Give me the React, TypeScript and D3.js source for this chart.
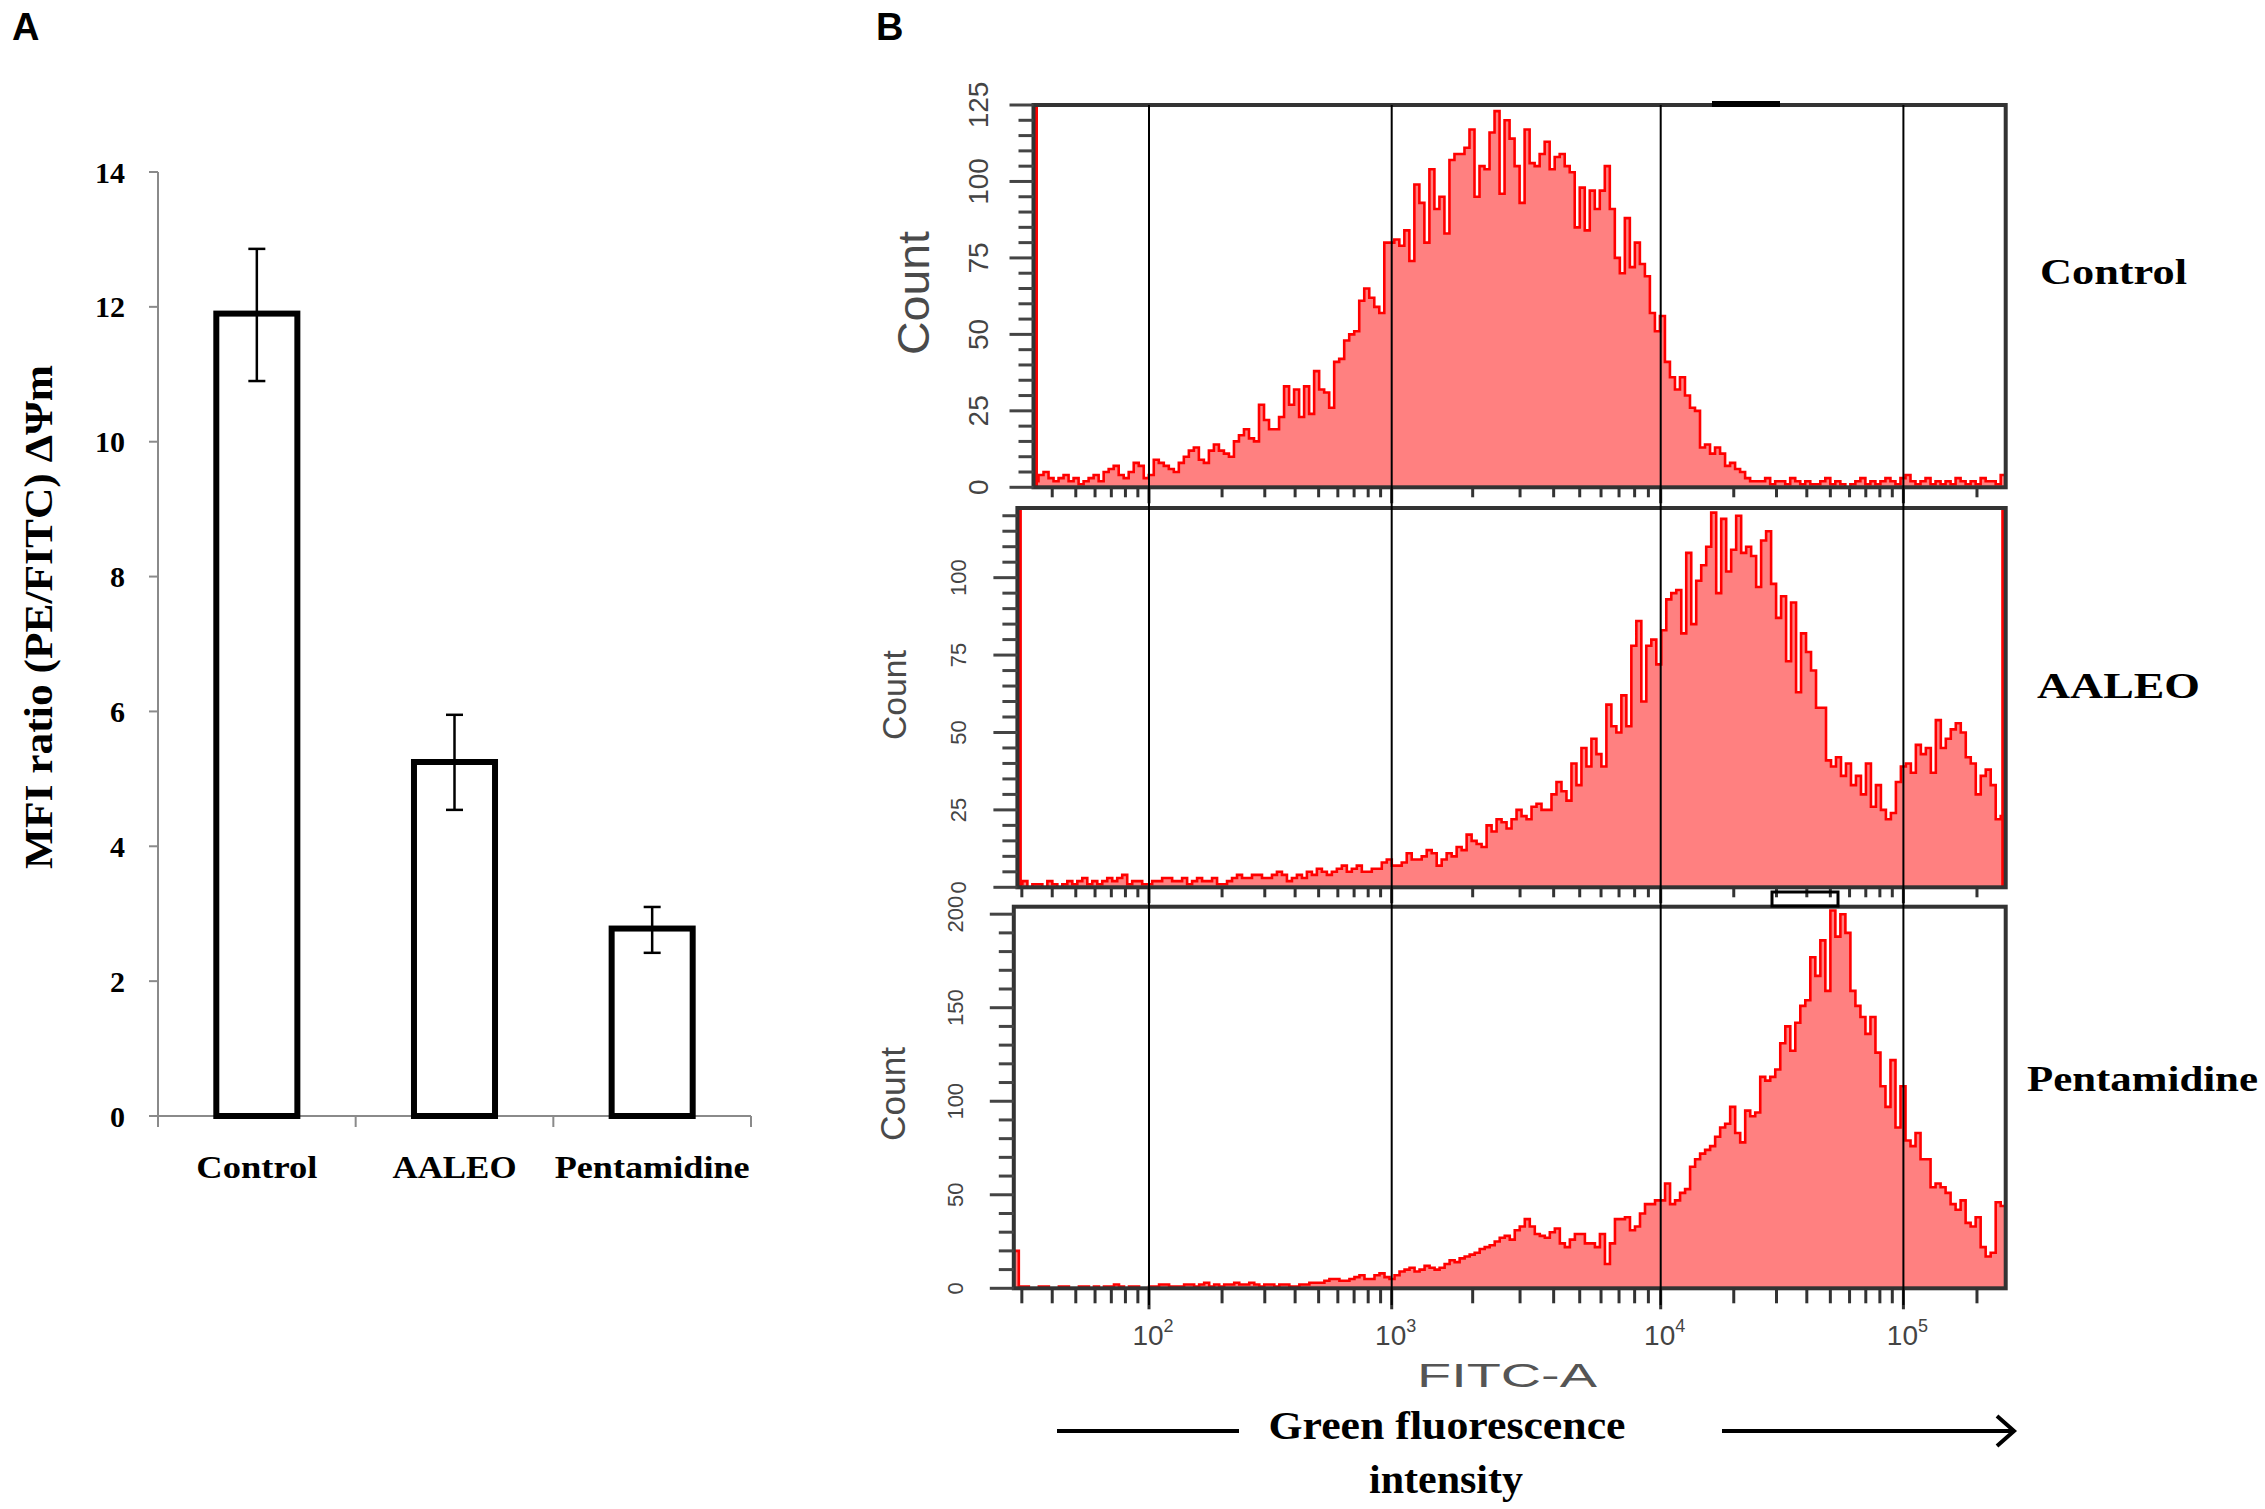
import React from "react";
import * as d3 from "d3";

// ---------- Panel A data ----------
const categories = ["Control", "AALEO", "Pentamidine"];
const mfiMeans = [11.9, 5.25, 2.78];
const mfiErrLow = [10.9, 4.54, 2.42];
const mfiErrHigh = [12.86, 5.95, 3.1];
const mfiTicks = [0, 2, 4, 6, 8, 10, 12, 14];

// ---------- Panel B data (counts per display channel) ----------
const controlCounts = [
  2, 4, 5, 3, 2, 3, 4, 2, 3, 1, 2, 3, 4, 2, 5, 6, 7, 4, 3, 5,
  8, 7, 3, 4, 9, 8, 7, 6, 5, 8, 10, 12, 13, 9, 8, 12, 14, 12, 11, 10,
  15, 17, 19, 16, 15,
  27, 22, 19, 19, 23, 33, 27, 32, 23, 33, 24, 38, 32, 31, 26, 41, 42, 48, 50, 51,
  61, 65, 62, 59, 57, 80, 80, 81, 79, 84, 74, 99, 93, 80, 104, 91, 95, 83, 107, 109,
  109, 111, 117, 95, 105, 104, 116, 123, 96, 120, 114, 105, 93, 117, 106, 105, 109, 113, 104, 108,
  109, 105, 103, 85, 98, 84, 97, 91, 97, 105, 91, 75, 70, 88, 72, 80, 73, 69, 57, 51,
  56, 41, 36, 32, 36, 30, 26, 25, 13, 14, 11, 13, 11, 7, 8, 6, 5, 3, 2, 2,
  2, 3, 1, 2, 2, 1, 3, 2, 1, 2, 1, 1, 2, 3, 1, 2, 1, 0, 1, 2,
  3, 1, 2, 1, 2, 3, 2, 1, 3, 4, 2, 1, 2, 3, 1, 2, 1, 2, 1, 3,
  2, 1, 2, 1, 3, 2, 2, 1, 4,
];
const aaleoCounts = [
  1, 2, 0, 1, 1, 0, 2, 1, 0, 1, 2, 1, 2, 3, 1, 2, 1, 2, 3, 2,
  3, 4, 1, 2, 2, 1, 1, 2, 2, 3, 3, 2, 2, 3, 1, 2, 3, 2, 2, 3,
  1, 1, 2, 3, 4, 3, 3, 4, 4, 3, 3, 4, 5, 4, 2, 3, 4, 3, 5, 4,
  6, 5, 4, 5, 6, 7, 5, 6, 7, 5, 5, 6, 6, 8, 9, 7, 7, 8, 11, 9,
  9, 10, 12, 11, 7, 9, 11, 10, 13, 12, 17, 15, 14, 13, 20, 18, 22, 21, 19, 22,
  25, 23, 22, 26, 27, 25, 25, 30,
  34, 31, 28, 40, 33, 45, 39, 48, 43, 39, 59, 52, 50, 62, 52, 78, 86, 60, 78, 80,
  72, 83, 93, 95, 96, 82, 108, 85, 99, 104, 110, 121, 95, 119, 102, 109, 120, 108, 110, 107,
  97, 112, 115, 98, 87, 94, 73, 92, 63, 82, 76, 70, 58, 58, 41, 39, 42, 36, 40, 33,
  36, 30, 40, 26, 33, 25, 22, 24, 34, 39, 40, 37, 46, 43, 45, 37, 54, 45, 48, 51,
  53, 50, 42, 40, 30, 36, 38, 33, 22, 23,
];
const pentamidineCounts = [
  20, 1, 1, 0, 0, 1, 1, 0, 0, 1, 1, 0, 0, 1, 1, 0, 1, 0, 1, 1,
  2, 1, 0, 1, 1, 0, 0, 1, 1, 2, 2, 1, 1, 1, 2, 2, 1, 2, 3, 1,
  2, 1, 2, 2, 3, 2, 2, 3, 2, 1, 2, 2, 1, 2, 2, 1, 1, 2, 2, 3,
  3, 3, 4, 5, 5, 4, 4, 5, 6, 7, 5, 5, 7, 8, 6, 5, 7, 9, 10, 11,
  9, 10, 12, 11, 10, 11, 13, 15, 14, 16, 17, 18, 19, 21, 22, 23, 25, 27, 28, 26,
  31, 33, 37, 33, 29, 28, 27, 30, 32,
  24, 22, 26, 29, 29, 24, 24, 22, 29, 13, 24, 37, 37, 38, 31, 33, 40, 45, 45, 47,
  47, 56, 45, 47, 51, 53, 65, 69, 72, 74, 76, 81, 86, 88, 97, 83, 78, 95, 92, 94,
  113, 111, 113, 117, 131, 140, 127, 142, 151, 154, 177, 167, 186, 159, 202, 188, 200, 190, 159, 151,
  145, 136, 145, 126, 108, 97, 122, 86, 108, 79, 76, 83, 69, 69, 54, 56, 54, 51, 45, 42,
  47, 35, 33, 38, 22, 17, 19, 46, 44,
];
const controlCountTicks = [0, 25, 50, 75, 100, 125];
const aaleoCountTicks = [0, 25, 50, 75, 100];
const pentamidineCountTicks = [0, 50, 100, 150, 200];
const decadeTicks = [100, 1000, 10000, 100000];
const decadeExponents = ["2", "3", "4", "5"];
const channelMax = 262144;

const W = 2265;
const H = 1509;
const SERIF = "'Liberation Serif', 'Times New Roman', serif";
const SANS = "'Liberation Sans', Arial, 'DejaVu Sans', sans-serif";

type Pt = { x: number; v: number };

export default function App() {
  // ---------- Panel A ----------
  const xA = d3.scaleBand<string>().domain(categories).range([158, 751]);
  const yA = d3.scaleLinear().domain([0, 14]).range([1116, 172]);
  const barW = xA.bandwidth() * 0.41;
  const capW = 17;
  const catLabelLen = [121, 124, 195];

  // ---------- Panel B ----------
  const right = 2005.7;
  const xB = d3
    .scaleLog()
    .domain([27.8, 1e2, 1e3, 1e4, 1e5, channelMax])
    .range([1013.8, 1149, 1391.7, 1660.7, 1903.4, right]);

  const panels = [
    {
      name: "Control", counts: controlCounts, ticks: controlCountTicks, max: 125, step: 5,
      left: 1033.5, top: 105, bottom: 487.3,
      tickLabelX: 978, tickFont: 28, countX: 913, countY: 293, countSize: 44, countLen: 124,
      labelX: 2040, labelY: 272, labelLen: 147, redLeft: true, redRight: false, tickLen: 10,
    },
    {
      name: "AALEO", counts: aaleoCounts, ticks: aaleoCountTicks, max: 122.5, step: 5,
      left: 1017.4, top: 508, bottom: 887.3,
      tickLabelX: 958, tickFont: 22, countX: 894, countY: 695, countSize: 34, countLen: 90,
      labelX: 2037, labelY: 686, labelLen: 163, redLeft: true, redRight: true, tickLen: 10,
    },
    {
      name: "Pentamidine", counts: pentamidineCounts, ticks: pentamidineCountTicks, max: 204, step: 10,
      left: 1013.8, top: 906.7, bottom: 1288.3,
      tickLabelX: 955, tickFont: 22, countX: 892, countY: 1094, countSize: 35, countLen: 94,
      labelX: 2027, labelY: 1079, labelLen: 231, redLeft: false, redRight: false, tickLen: 15,
    },
  ];

  const minorTicks: number[] = [];
  for (let k = 1; k <= 5; k++) {
    for (let m = 1; m <= 9; m++) {
      const v = m * Math.pow(10, k);
      if (v >= 30 && v <= 250000) minorTicks.push(v);
    }
  }

  return (
    <svg
      width={W}
      height={H}
      viewBox={`0 0 ${W} ${H}`}
      style={{ position: "absolute", left: 0, top: 0, display: "block", background: "#fff" }}
    >
      <rect x={0} y={0} width={W} height={H} fill="#fff" />
      {/* ===== Panel A ===== */}
      <text x={12} y={40} fontFamily={SANS} fontWeight="bold" fontSize={38} fill="#000">A</text>

      <line x1={158} x2={158} y1={yA(14)} y2={yA(0)} stroke="#8a8a8a" strokeWidth={2} />
      <line x1={158} x2={751} y1={yA(0)} y2={yA(0)} stroke="#8a8a8a" strokeWidth={2} />
      {mfiTicks.map((t) => (
        <g key={`yt${t}`}>
          <line x1={149} x2={158} y1={yA(t)} y2={yA(t)} stroke="#8a8a8a" strokeWidth={2} />
          <text x={125} y={yA(t)} textAnchor="end" dominantBaseline="central"
            fontFamily={SERIF} fontWeight="bold" fontSize={30} fill="#000">{t}</text>
        </g>
      ))}
      {[...categories.map((c) => xA(c) as number), 751].map((x, i) => (
        <line key={`xt${i}`} x1={x} x2={x} y1={yA(0)} y2={yA(0) + 11} stroke="#8a8a8a" strokeWidth={2} />
      ))}
      {categories.map((c, i) => {
        const cx = (xA(c) as number) + xA.bandwidth() / 2;
        return (
          <g key={c}>
            <rect x={cx - barW / 2} y={yA(mfiMeans[i])} width={barW} height={yA(0) - yA(mfiMeans[i])}
              fill="#fff" stroke="#000" strokeWidth={6} />
            <line x1={cx} x2={cx} y1={yA(mfiErrHigh[i])} y2={yA(mfiErrLow[i])} stroke="#000" strokeWidth={2.5} />
            <line x1={cx - capW / 2} x2={cx + capW / 2} y1={yA(mfiErrHigh[i])} y2={yA(mfiErrHigh[i])} stroke="#000" strokeWidth={2.5} />
            <line x1={cx - capW / 2} x2={cx + capW / 2} y1={yA(mfiErrLow[i])} y2={yA(mfiErrLow[i])} stroke="#000" strokeWidth={2.5} />
            <text x={cx} y={1167} textAnchor="middle" dominantBaseline="central"
              fontFamily={SERIF} fontWeight="bold" fontSize={32}
              textLength={catLabelLen[i]} lengthAdjust="spacingAndGlyphs" fill="#000">{c}</text>
          </g>
        );
      })}
      <text transform="translate(38,617) rotate(-90)" textAnchor="middle" dominantBaseline="central"
        fontFamily={SERIF} fontWeight="bold" fontSize={40} textLength={504} lengthAdjust="spacingAndGlyphs"
        fill="#000">MFI ratio (PE/FITC) ΔΨm</text>

      {/* ===== Panel B ===== */}
      <text x={876} y={40} fontFamily={SANS} fontWeight="bold" fontSize={38} fill="#000">B</text>
      <defs>
        {panels.map((p, pi) => (
          <clipPath id={`clip${pi}`} key={`c${pi}`}>
            <rect x={p.left} y={p.top} width={right - p.left} height={p.bottom - p.top} />
          </clipPath>
        ))}
      </defs>

      {panels.map((p, pi) => {
        const y = d3.scaleLinear().domain([0, p.max]).range([p.bottom, p.top]);
        const n = p.counts.length;
        const chan = d3.scaleLinear().domain([0, n]).range([p.left, right]);
        const pts: Pt[] = [...p.counts.map((v, i) => ({ x: chan(i), v })), { x: chan(n), v: p.counts[n - 1] }];
        const area = d3.area<Pt>().curve(d3.curveStepAfter).x((d) => d.x).y0(p.bottom).y1((d) => y(d.v));
        const line = d3.line<Pt>().curve(d3.curveStepAfter).x((d) => d.x).y((d) => y(d.v));
        const yMinor: number[] = d3.range(0, p.max + 0.01, p.step);
        return (
          <g key={p.name}>
            <g clipPath={`url(#clip${pi})`}>
              <path d={area(pts) || ""} fill="#ff8080" />
              <path d={line(pts) || ""} fill="none" stroke="#ff0000" strokeWidth={2.6} strokeLinejoin="miter" />
            </g>
            {p.redLeft && <line x1={p.left + 3} x2={p.left + 3} y1={p.top} y2={p.bottom} stroke="#ff0000" strokeWidth={3} />}
            {p.redRight && <line x1={right - 3} x2={right - 3} y1={p.top} y2={p.bottom} stroke="#ff0000" strokeWidth={3} />}
            <rect x={p.left} y={p.top} width={right - p.left} height={p.bottom - p.top}
              fill="none" stroke="#333" strokeWidth={4} />
            {yMinor.map((t) => {
              const major = p.ticks.includes(t);
              return (
                <line key={`ym${t}`} x1={p.left - (major ? 24 : 15)} x2={p.left} y1={y(t)} y2={y(t)}
                  stroke="#444" strokeWidth={3} />
              );
            })}
            {p.ticks.map((t) => (
              <text key={`yl${t}`} transform={`translate(${p.tickLabelX},${y(t)}) rotate(-90)`}
                textAnchor="middle" dominantBaseline="central" fontFamily={SANS}
                fontSize={p.tickFont} fill="#444">{t}</text>
            ))}
            <text transform={`translate(${p.countX},${p.countY}) rotate(-90)`} textAnchor="middle"
              dominantBaseline="central" fontFamily={SANS} fontSize={p.countSize}
              textLength={p.countLen} lengthAdjust="spacingAndGlyphs" fill="#4a4a4a">Count</text>
            {minorTicks.filter((v) => xB(v) > p.left + 4).map((v) => {
              const major = decadeTicks.includes(v);
              return (
                <line key={`xm${v}`} x1={xB(v)} x2={xB(v)} y1={p.bottom} y2={p.bottom + p.tickLen + (major ? 6 : 0)}
                  stroke="#333" strokeWidth={3} />
              );
            })}
            <text x={p.labelX} y={p.labelY} dominantBaseline="central" fontFamily={SERIF} fontWeight="bold"
              fontSize={36} textLength={p.labelLen} lengthAdjust="spacingAndGlyphs" fill="#000">{p.name}</text>
          </g>
        );
      })}

      {/* gate markers */}
      <rect x={1712} y={101} width={68} height={6} fill="#000" />
      <rect x={1772} y={892} width={66} height={14} fill="none" stroke="#000" strokeWidth={3} />

      {/* decade grid lines */}
      {decadeTicks.map((v) => (
        <line key={`g${v}`} x1={xB(v)} x2={xB(v)} y1={105} y2={1305} stroke="#000" strokeWidth={2} />
      ))}

      {decadeTicks.map((v, i) => (
        <text key={`dl${v}`} x={xB(v) + 4} y={1345} textAnchor="middle" fontFamily={SANS} fontSize={28} fill="#444">
          10<tspan fontSize={18} dy={-13}>{decadeExponents[i]}</tspan>
        </text>
      ))}
      <text x={1507} y={1387} textAnchor="middle" fontFamily={SANS} fontSize={34} textLength={180}
        lengthAdjust="spacingAndGlyphs" fill="#555">FITC-A</text>

      <line x1={1057} x2={1239} y1={1431} y2={1431} stroke="#000" strokeWidth={4} />
      <line x1={1722} x2={2012} y1={1431} y2={1431} stroke="#000" strokeWidth={4} />
      <polyline points="1997,1416 2014,1431 1997,1446" fill="none" stroke="#000" strokeWidth={4} />
      <text x={1447} y={1439} textAnchor="middle" fontFamily={SERIF} fontWeight="bold" fontSize={40}
        textLength={357} lengthAdjust="spacingAndGlyphs" fill="#000">Green fluorescence</text>
      <text x={1446} y={1493} textAnchor="middle" fontFamily={SERIF} fontWeight="bold" fontSize={40}
        textLength={154} lengthAdjust="spacingAndGlyphs" fill="#000">intensity</text>
    </svg>
  );
}
